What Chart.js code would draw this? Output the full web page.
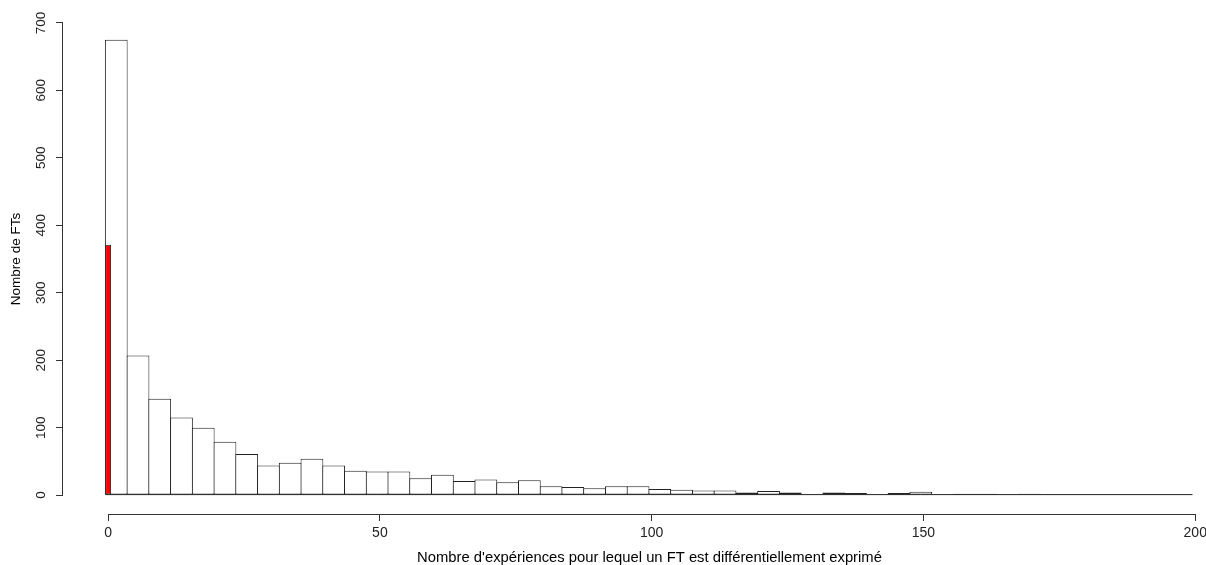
<!DOCTYPE html>
<html>
<head>
<meta charset="utf-8">
<script src="https://cdn.jsdelivr.net/npm/chart.js@4.4.1/dist/chart.umd.min.js"></script>
<style>
  html, body { margin: 0; padding: 0; background: #fff; overflow: hidden; }
  #wrap { width: 1236px; height: 565px; }
</style>
</head>
<body>
<div id="wrap"><canvas id="histo"></canvas></div>
<script>
// histogram bins (width 4, centres) and counts
const binWidth = 4;
const binCentres = [1.5, 5.5, 9.5, 13.5, 17.5, 21.5, 25.5, 29.5, 33.5, 37.5,
  41.5, 45.5, 49.5, 53.5, 57.5, 61.5, 65.5, 69.5, 73.5, 77.5,
  81.5, 85.5, 89.5, 93.5, 97.5, 101.5, 105.5, 109.5, 113.5, 117.5,
  121.5, 125.5, 129.5, 133.5, 137.5, 141.5, 145.5, 149.5, 153.5, 157.5,
  161.5, 165.5, 169.5, 173.5, 177.5, 181.5, 185.5, 189.5, 193.5, 197.5];
const counts = [675, 207, 143, 115, 100, 79, 61, 44, 48, 54,
  44, 36, 35, 35, 25, 30, 21, 23, 19, 22,
  13, 12, 10, 13, 13, 9, 8, 7, 7, 4,
  6, 4, 1, 4, 3, 1, 3, 5, 0, 2,
  2, 1, 2, 1, 1, 0, 1, 0, 1, 0];

// FTs at exactly 0 (red bar)
const zeroCentre = [0];
const zeroCount = [371];

const xTicks = [0, 50, 100, 150, 200];
const yTicks = [0, 100, 200, 300, 400, 500, 600, 700];

const family = "'Liberation Sans', Arial, sans-serif";

// R style axes: line only between first and last tick + bottom of the bins
const axisLines = {
  id: 'axisLines',
  afterDraw(chart) {
    const { ctx, chartArea, scales } = chart;
    const x = scales.x, y = scales.y;
    ctx.save();
    ctx.strokeStyle = '#333';
    ctx.lineWidth = 1;
    ctx.beginPath();
    const ax = Math.round(chartArea.left) - 0.5;
    ctx.moveTo(ax, y.getPixelForValue(yTicks[0]));
    ctx.lineTo(ax, y.getPixelForValue(yTicks[yTicks.length - 1]));
    const ay = Math.round(chartArea.bottom) + 0.5;
    ctx.moveTo(x.getPixelForValue(xTicks[0]), ay);
    ctx.lineTo(x.getPixelForValue(xTicks[xTicks.length - 1]), ay);
    ctx.stroke();

    const y0 = y.getPixelForValue(0);
    ctx.strokeStyle = '#222';
    ctx.beginPath();
    ctx.moveTo(x.getPixelForValue(binCentres[0] - binWidth / 2), y0 - 0.5);
    ctx.lineTo(x.getPixelForValue(binCentres[binCentres.length - 1] + binWidth / 2), y0 - 0.5);
    ctx.stroke();
    ctx.restore();
  }
};

new Chart(document.getElementById('histo'), {
  type: 'bar',
  data: {
    datasets: [
      {
        data: zeroCentre.map((v, i) => ({ x: v, y: zeroCount[i] })),
        xAxisID: 'x2',
        backgroundColor: '#ff0000',
        borderColor: '#222',
        borderWidth: 1,
        borderSkipped: false,
        barPercentage: 1.1,
        categoryPercentage: 1,
        grouped: false,
        order: 0
      },
      {
        data: binCentres.map((v, i) => ({ x: v, y: counts[i] })),
        xAxisID: 'x',
        backgroundColor: '#ffffff',
        borderColor: '#222',
        borderWidth: 1,
        borderSkipped: false,
        barPercentage: 1.046,
        categoryPercentage: 1,
        grouped: false,
        order: 1
      }
    ]
  },
  options: {
    responsive: true,
    maintainAspectRatio: false,
    animation: false,
    events: [],
    layout: { padding: { top: 4, right: 0, bottom: 0, left: 0 } },
    plugins: {
      legend: { display: false },
      tooltip: { enabled: false }
    },
    scales: {
      x: {
        type: 'linear',
        min: -8.3,
        max: 207.5,
        offset: false,
        afterBuildTicks: s => { s.ticks = xTicks.map(v => ({ value: v })); },
        afterFit: s => { s.height = 51; s.paddingLeft = 0; s.paddingRight = 0; },
        grid: { offset: false, drawOnChartArea: false, drawTicks: true, tickLength: 7, color: '#333' },
        border: { display: false },
        ticks: { color: '#222', font: { family: family, size: 14 }, padding: 4, maxRotation: 0, autoSkip: false },
        title: {
          display: true,
          text: "Nombre d'expériences pour lequel un FT est différentiellement exprimé",
          color: '#000',
          font: { family: family, size: 14.8, lineHeight: 1 },
          padding: { top: 0, bottom: 0 }
        }
      },
      x2: {
        type: 'linear',
        display: false,
        min: -8.3,
        max: 207.5,
        offset: false,
        afterBuildTicks: s => { s.ticks = [{ value: zeroCentre[0] - 0.5 }, { value: zeroCentre[0] + 0.5 }]; }
      },
      y: {
        type: 'linear',
        min: -28,
        max: 728,
        afterBuildTicks: s => { s.ticks = yTicks.map(v => ({ value: v })); },
        afterFit: s => { s.width = 63; s.paddingTop = 0; s.paddingBottom = 0; },
        grid: { drawOnChartArea: false, drawTicks: true, tickLength: 7, color: '#333' },
        border: { display: false },
        ticks: { color: '#222', font: { family: family, size: 13.5 }, padding: 3, minRotation: 90, maxRotation: 90, crossAlign: 'center', autoSkip: false },
        title: {
          display: true,
          text: 'Nombre de FTs',
          color: '#000',
          font: { family: family, size: 13.5 },
          padding: { top: 8, bottom: 8 }
        }
      }
    }
  },
  plugins: [axisLines]
});
</script>
</body>
</html>
